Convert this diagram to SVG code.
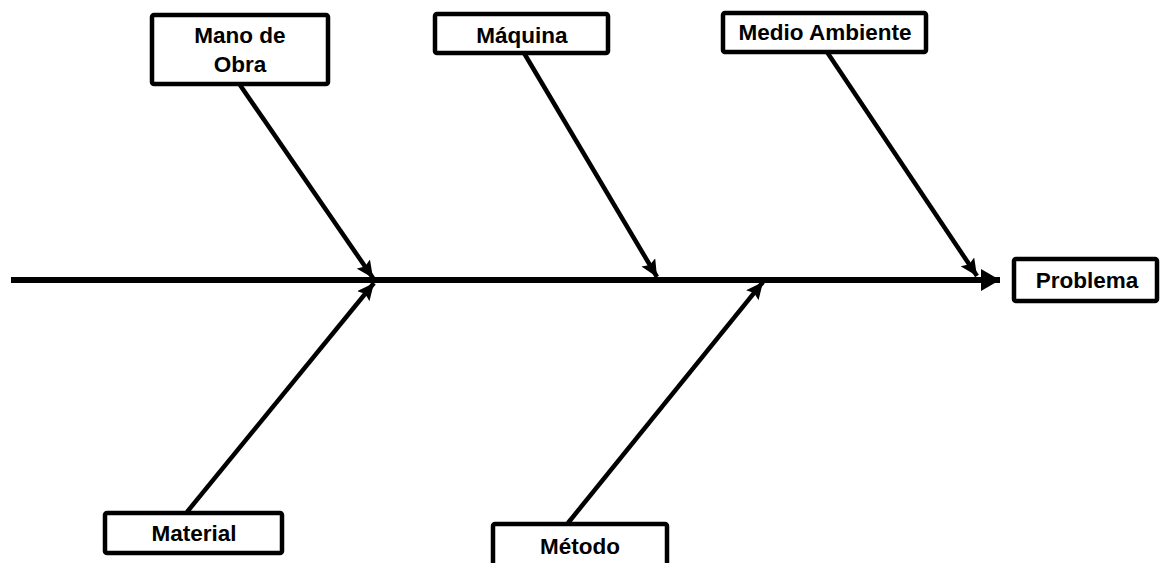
<svg xmlns="http://www.w3.org/2000/svg" width="1160" height="563" viewBox="0 0 1160 563">
<defs>
<style>
.box{fill:#fff;stroke:#000;stroke-width:4.5}
.lbl{font-family:"Liberation Sans",Arial,sans-serif;font-weight:bold;font-size:22.5px;fill:#000;text-anchor:middle}
.bone{stroke:#000;stroke-width:4.5;fill:none}
.spine{stroke:#000;stroke-width:6;fill:none}
</style>
<marker id="ah" markerUnits="userSpaceOnUse" markerWidth="18" markerHeight="16" refX="17" refY="8" orient="auto"><path d="M0,0 L17,8 L0,16 L3,8 Z" fill="#000"/></marker>
<marker id="ahs" markerUnits="userSpaceOnUse" markerWidth="20" markerHeight="24" refX="19" refY="12" orient="auto"><path d="M0,1 L19,12 L0,23 Z" fill="#000"/></marker>
</defs>
<rect width="1160" height="563" fill="#fff"/>
<g id="connectors">
<line class="spine" x1="11" y1="280" x2="1000" y2="280" marker-end="url(#ahs)"/>
<line class="bone" x1="240" y1="85" x2="373" y2="278" marker-end="url(#ah)"/>
<line class="bone" x1="187" y1="512" x2="374" y2="283" marker-end="url(#ah)"/>
<line class="bone" x1="524" y1="53" x2="657" y2="277" marker-end="url(#ah)"/>
<line class="bone" x1="568" y1="523" x2="763" y2="282" marker-end="url(#ah)"/>
<line class="bone" x1="827" y1="52" x2="977" y2="276" marker-end="url(#ah)"/>
</g>
<g id="mano-de-obra">
<rect class="box" x="152" y="15" width="176" height="69" rx="2"/>
<text class="lbl" x="240" y="43">Mano de</text>
<text class="lbl" x="240" y="72">Obra</text>
</g>
<g id="maquina">
<rect class="box" x="435" y="14" width="173" height="39" rx="2"/>
<text class="lbl" x="522" y="43">Máquina</text>
</g>
<g id="medio-ambiente">
<rect class="box" x="723" y="13" width="203" height="39" rx="2"/>
<text class="lbl" x="825" y="40">Medio Ambiente</text>
</g>
<g id="problema">
<rect class="box" x="1014" y="259" width="143" height="42" rx="2"/>
<text class="lbl" x="1087" y="288">Problema</text>
</g>
<g id="material">
<rect class="box" x="105" y="513" width="177" height="40" rx="2"/>
<text class="lbl" x="194" y="541">Material</text>
</g>
<g id="metodo">
<rect class="box" x="493" y="524" width="174" height="45" rx="2"/>
<text class="lbl" x="580" y="554">Método</text>
</g>
</svg>
